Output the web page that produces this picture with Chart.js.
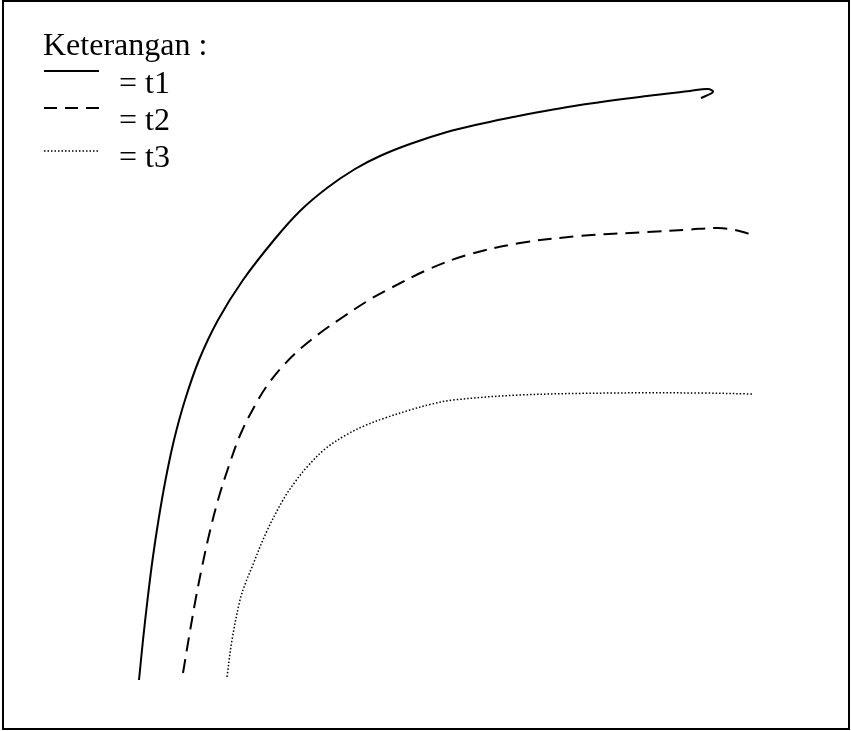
<!DOCTYPE html>
<html>
<head>
<meta charset="utf-8">
<script src="https://cdn.jsdelivr.net/npm/chart.js@4.4.1/dist/chart.umd.min.js"></script>
<style>
    body { margin: 0; background: #fff; }
    canvas { display: block; }
</style>
</head>
<body>
<canvas id="myChart" width="851" height="731"></canvas>
<script>
// values (x to the right, y downward, in picture units)
const t1X = [139, 143, 147.5, 152.5, 158.5, 165.5, 174, 185, 199, 218, 243, 274, 300, 327, 355, 380, 410, 447, 480, 513, 580, 647, 690, 708, 713, 701]
const t1Y = [680, 640, 600, 560, 520, 480, 440, 400, 360, 320, 280, 240, 211, 188, 169, 156, 144, 132, 124, 117, 105, 96, 91, 89, 92, 98]

const t2X = [183, 188.5, 195.5, 202, 209.5, 218, 228.5, 241, 258, 269, 282, 299, 320, 343, 369, 387, 427, 467, 520, 580, 647, 690, 718, 735, 750]
const t2Y = [673, 640, 600, 567, 533, 500, 467, 433, 400, 383, 367, 350, 333, 317, 300, 290, 270, 255, 243, 236, 232, 229.5, 228, 230, 234]

const t3X = [227, 232, 240, 245.5, 252, 266, 283, 295, 307, 325, 346, 364, 385, 410, 432, 453, 520, 613, 700, 752]
const t3Y = [677, 640, 600, 583, 567, 533, 500, 482, 467, 449, 435, 426, 418, 410, 404, 400, 395, 393, 393, 394]

const legendTitle = 'Keterangan :'
const seriesLabels = ['= t1', '= t2', '= t3']

const toPoints = function (xs, ys) {
    return xs.map((x, i) => ({ x: x, y: ys[i] }))
}

const frameAndLegend = {
    id: 'frameAndLegend',
    afterDraw: function (chart) {
        const ctx = chart.ctx
        ctx.save()
        ctx.strokeStyle = '#000'
        ctx.lineWidth = 2
        ctx.strokeRect(3, 1, 846, 728)

        ctx.fillStyle = '#000'
        ctx.font = '32px "Liberation Serif", "Times New Roman", serif'
        ctx.textBaseline = 'alphabetic'
        ctx.fillText(legendTitle, 43, 55)

        const rows = [
            { y: 71, dash: [], width: 2, textY: 93 },
            { y: 108, dash: [13, 8], width: 2, textY: 130 },
            { y: 151, dash: [1.5, 2], width: 1.5, textY: 167 }
        ]
        rows.forEach(function (r, i) {
            ctx.beginPath()
            ctx.setLineDash(r.dash)
            ctx.lineWidth = r.width
            ctx.moveTo(44, r.y)
            ctx.lineTo(99, r.y)
            ctx.stroke()
            ctx.setLineDash([])
            ctx.fillText(seriesLabels[i], 119, r.textY)
        })
        ctx.restore()
    }
}

const chart = new Chart(document.getElementById('myChart').getContext('2d'), {
    type: 'scatter',
    data: {
        datasets: [
            {
                label: 't1',
                data: toPoints(t1X, t1Y),
                showLine: true,
                borderColor: '#000',
                borderWidth: 2,
                pointRadius: 0,
                tension: 0.35
            },
            {
                label: 't2',
                data: toPoints(t2X, t2Y),
                showLine: true,
                borderColor: '#000',
                borderWidth: 2,
                borderDash: [14, 8],
                pointRadius: 0,
                tension: 0.35
            },
            {
                label: 't3',
                data: toPoints(t3X, t3Y),
                showLine: true,
                borderColor: '#000',
                borderWidth: 1.5,
                borderDash: [1.5, 2],
                pointRadius: 0,
                tension: 0.35
            }
        ]
    },
    options: {
        responsive: false,
        animation: false,
        layout: { padding: 0 },
        plugins: {
            legend: { display: false },
            tooltip: { enabled: false }
        },
        scales: {
            x: { type: 'linear', min: 0, max: 851, display: false },
            y: { type: 'linear', min: 0, max: 731, reverse: true, display: false }
        }
    },
    plugins: [frameAndLegend]
})
</script>
</body>
</html>
